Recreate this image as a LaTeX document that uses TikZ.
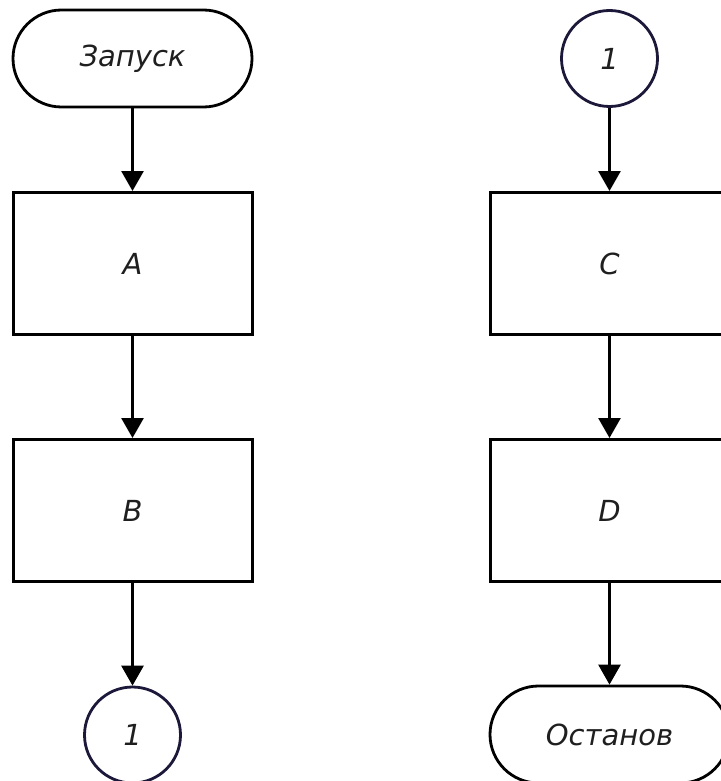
\documentclass[tikz,border=0pt]{standalone}
\usepackage{fontspec}
\newfontfamily\flowfont{DejaVu Sans}
\usetikzlibrary{arrows.meta}
\definecolor{linkink}{RGB}{28,24,58}
\tikzset{
  x=1pt, y=-1pt,
  lbl/.style={font=\flowfont\itshape\fontsize{29}{33}\selectfont, text=black!88},
  terminal/.style={lbl, draw, line width=2.8pt, rounded corners=48.5pt,
    minimum width=239pt, minimum height=97pt, inner sep=0pt},
  procbox/.style={lbl, draw, line width=3pt, rectangle,
    minimum width=239pt, minimum height=142pt, inner sep=0pt},
  linkcircle/.style={lbl, draw=linkink, line width=2.8pt, circle,
    minimum size=96pt, inner sep=0pt},
  flow/.style={line width=2.8pt, -{Triangle[length=20pt,width=22pt]}}
}
\begin{document}
\begin{tikzpicture}
\useasboundingbox (0,0) rectangle (720,781);
\fill[white] (0,0) rectangle (720,781);

% left column
\node[terminal]   (start) at (132.5,58.5) {Запуск};
\node[procbox]    (a)     at (132.5,263.5) {A};
\node[procbox]    (b)     at (132.5,510.5) {B};
\node[linkcircle] (out1)  at (132.5,735)  {1};

% right column
\node[linkcircle] (in1)   at (609.5,58.5) {1};
\node[procbox]    (c)     at (609.5,263.5) {C};
\node[procbox]    (d)     at (609.5,510.5) {D};
\node[terminal]   (stop)  at (609.5,734.5) {Останов};

\draw[flow] (start) -- (a);
\draw[flow] (a) -- (b);
\draw[flow] (b) -- (out1);
\draw[flow] (in1) -- (c);
\draw[flow] (c) -- (d);
\draw[flow] (d) -- (stop);
\end{tikzpicture}
\end{document}
